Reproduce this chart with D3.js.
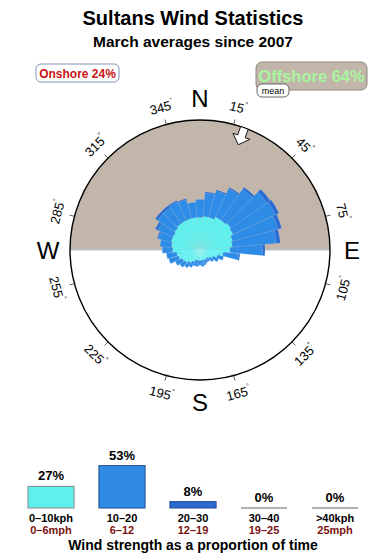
<!DOCTYPE html>
<html>
<head>
<meta charset="utf-8">
<script src="https://cdn.jsdelivr.net/npm/d3@7"></script>
<style>
  html, body { margin: 0; padding: 0; background: #fff; }
  svg { display: block; font-family: "Liberation Sans", Arial, sans-serif; }
</style>
</head>
<body>
<div id="chart"></div>
<script>
// sector bearings (deg, clockwise from N)
const directions = d3.range(0, 360, 10);
// share of time per sector for each speed band
const calm = [2.5, 2.6, 2.6, 2.8, 2.8, 2.9, 2.8, 2.6, 2.5, 2.3, 1.8, 1.4, 1.1, 0.9, 0.8, 0.8, 0.8, 0.8,
              0.8, 0.8, 0.8, 1.0, 1.2, 1.4, 1.5, 1.7, 1.8, 2.1, 2.2, 2.3, 2.3, 2.4, 2.5, 2.5, 2.5, 2.5];
const light = [1.4, 1.8, 2.1, 2.4, 2.9, 3.4, 3.6, 3.6, 3.4, 2.5, 1.2, 0.5, 0.5, 0.4, 0.3, 0.3, 0.4, 0.5,
               0.4, 0.5, 0.5, 0.5, 0.5, 0.5, 0.6, 0.8, 0.8, 0.8, 0.9, 1.0, 1.3, 1.6, 1.5, 1.6, 1.5, 1.2];
const moderate = [0, 0.1, 0.1, 0.1, 0.2, 0.3, 0.3, 0.3, 0.3, 0.2, 0.1, 0, 0, 0, 0, 0, 0, 0,
                  0, 0, 0, 0, 0, 0, 0, 0, 0, 0, 0, 0.1, 0.2, 0.2, 0.2, 0.1, 0.1, 0];
const tickAngles = [15, 45, 75, 105, 135, 165, 195, 225, 255, 285, 315, 345];
const compass = [["N", 0], ["E", 90], ["S", 180], ["W", 270]];
const meanDir = 20;

// speed histogram
const speedKph = ["0–10kph", "10–20", "20–30", "30–40", ">40kph"];
const speedMph = ["0–6mph", "6–12", "12–19", "19–25", "25mph"];
const speedPct = [27, 53, 8, 0, 0];

const W = 390, H = 560;
const cx = 200, cy = 250, R = 130;
const rad = d => d * Math.PI / 180;

const svg = d3.select("#chart").append("svg").attr("width", W).attr("height", H);

// titles
svg.append("text").attr("x", 193).attr("y", 25).attr("text-anchor", "middle")
  .style("font-size", "20px").style("font-weight", "bold").text("Sultans Wind Statistics");
svg.append("text").attr("x", 193).attr("y", 47).attr("text-anchor", "middle")
  .style("font-size", "15.5px").style("font-weight", "bold").text("March averages since 2007");

// onshore / offshore badges
svg.append("rect").attr("x", 36).attr("y", 64).attr("width", 83).attr("height", 18).attr("rx", 5)
  .attr("fill", "#fff").attr("stroke", "#8094b0");
svg.append("text").attr("x", 77.5).attr("y", 77.5).attr("text-anchor", "middle")
  .style("font-size", "12px").style("font-weight", "bold").attr("fill", "#c81414").text("Onshore 24%");
svg.append("rect").attr("x", 256).attr("y", 62).attr("width", 111).attr("height", 28).attr("rx", 6)
  .attr("fill", "#c2b6aa").attr("stroke", "#8d8780");
svg.append("text").attr("x", 311.5).attr("y", 81.5).attr("text-anchor", "middle")
  .style("font-size", "16.5px").style("font-weight", "bold").attr("fill", "#a8f5a0").text("Offshore 64%");
svg.append("rect").attr("x", 257).attr("y", 84).attr("width", 32).attr("height", 13).attr("rx", 5)
  .attr("fill", "#fff").attr("stroke", "#666");
svg.append("text").attr("x", 273).attr("y", 94).attr("text-anchor", "middle")
  .style("font-size", "9px").attr("fill", "#000").text("mean");

// compass dial
const g = svg.append("g").attr("transform", `translate(${cx},${cy})`);
const half = d3.arc().innerRadius(0).outerRadius(R);
g.append("path").attr("d", half({ startAngle: -Math.PI / 2, endAngle: Math.PI / 2 })).attr("fill", "#c2b6aa");
g.append("path").attr("d", half({ startAngle: Math.PI / 2, endAngle: 3 * Math.PI / 2 })).attr("fill", "#fff");
g.append("line").attr("x1", -R).attr("x2", R).attr("stroke", "#a8c6de").attr("stroke-width", 1.2);

// stacked rose
const rows = directions.map((d, i) => ({ dir: d, calm: calm[i], light: light[i], moderate: moderate[i] }));
const stack = d3.stack().keys(["calm", "light", "moderate"]);
const layers = stack(rows);
const r = d3.scaleLinear().domain([0, 10]).range([0, R]);
const colors = { calm: "#5ef0ee", light: "#2f8ce6", moderate: "#2a6cd6" };
const sector = d3.arc()
  .innerRadius(d => r(d[0]))
  .outerRadius(d => r(d[1]))
  .startAngle(d => rad(d.data.dir - 5))
  .endAngle(d => rad(d.data.dir + 5));

g.selectAll("g.layer")
  .data(layers)
  .join("g")
    .attr("class", "layer")
    .attr("fill", d => colors[d.key])
  .selectAll("path")
  .data(d => d)
  .join("path")
    .attr("d", sector)
    .attr("stroke", "rgba(255,255,255,0.12)")
    .attr("stroke-width", 0.5);

// rim + ticks
g.append("circle").attr("r", R).attr("fill", "none").attr("stroke", "#000").attr("stroke-width", 1.4);
g.selectAll("line.tick")
  .data(tickAngles)
  .join("line")
    .attr("class", "tick")
    .attr("x1", d => (R - 1) * Math.sin(rad(d))).attr("y1", d => -(R - 1) * Math.cos(rad(d)))
    .attr("x2", d => (R + 5) * Math.sin(rad(d))).attr("y2", d => -(R + 5) * Math.cos(rad(d)))
    .attr("stroke", "#333").attr("stroke-width", 0.8);

const tl = g.selectAll("text.deg")
  .data(tickAngles)
  .join("text")
    .attr("class", "deg")
    .attr("text-anchor", "middle")
    .attr("dominant-baseline", "central")
    .style("font-size", "13px")
    .attr("transform", d => {
      const x = 148 * Math.sin(rad(d)), y = -148 * Math.cos(rad(d));
      const rot = (d > 90 && d < 270) ? d - 180 : (d > 180 ? d - 360 : d);
      return `translate(${x},${y}) rotate(${rot})`;
    });
tl.append("tspan").text(d => d);
tl.append("tspan").attr("dy", -5).style("font-size", "7px").text("°");

g.selectAll("text.card")
  .data(compass)
  .join("text")
    .attr("class", "card")
    .attr("text-anchor", "middle")
    .attr("x", d => 152 * Math.sin(rad(d[1])))
    .attr("y", d => -152 * Math.cos(rad(d[1])) + 9)
    .style("font-size", "24px")
    .text(d => d[0]);

// mean direction arrow, pointing inward
const arrowPts = [[130, -4], [121, -4], [121, -9], [112, 0], [121, 9], [121, 4], [130, 4]];
g.append("polygon")
  .attr("points", arrowPts.map(([rr, t]) => {
    const a = rad(meanDir);
    return [rr * Math.sin(a) + t * Math.cos(a), -rr * Math.cos(a) + t * Math.sin(a)].join(",");
  }).join(" "))
  .attr("fill", "#fff").attr("stroke", "#000").attr("stroke-width", 0.9);

// speed histogram
const x = d3.scaleBand().domain(speedKph).range([15.5, 370.5]).paddingInner(0.35).paddingOuter(0.175);
const y = d3.scaleLinear().domain([0, 100]).range([508, 428]);
const barFill = ["#5ef0ea", "#2f8be4", "#2c69d2", "#2c69d2", "#2c69d2"];
const barStroke = ["#8a8a8a", "#1f4f90", "#1f4a90", "#999", "#999"];

const bars = svg.append("g");
bars.selectAll("rect")
  .data(speedPct.map((v, i) => ({ v, i })).filter(d => d.v > 0))
  .join("rect")
    .attr("x", d => x(speedKph[d.i]))
    .attr("y", d => y(d.v))
    .attr("width", x.bandwidth())
    .attr("height", d => y(0) - y(d.v))
    .attr("fill", d => barFill[d.i])
    .attr("stroke", d => barStroke[d.i]);
bars.selectAll("line")
  .data(speedPct.map((v, i) => ({ v, i })).filter(d => d.v === 0))
  .join("line")
    .attr("x1", d => x(speedKph[d.i])).attr("x2", d => x(speedKph[d.i]) + x.bandwidth())
    .attr("y1", y(0)).attr("y2", y(0))
    .attr("stroke", "#999").attr("stroke-width", 1.5);

bars.selectAll("text.pct")
  .data(speedPct)
  .join("text")
    .attr("class", "pct")
    .attr("text-anchor", "middle")
    .attr("x", (d, i) => x(speedKph[i]) + x.bandwidth() / 2)
    .attr("y", d => y(d) - 6)
    .style("font-size", "13px").style("font-weight", "bold")
    .text(d => d + "%");
bars.selectAll("text.kph")
  .data(speedKph)
  .join("text")
    .attr("class", "kph")
    .attr("text-anchor", "middle")
    .attr("x", d => x(d) + x.bandwidth() / 2)
    .attr("y", 522)
    .style("font-size", "11px").style("font-weight", "bold")
    .text(d => d);
bars.selectAll("text.mph")
  .data(speedMph)
  .join("text")
    .attr("class", "mph")
    .attr("text-anchor", "middle")
    .attr("x", (d, i) => x(speedKph[i]) + x.bandwidth() / 2)
    .attr("y", 534)
    .attr("fill", "#7a1212")
    .style("font-size", "11px").style("font-weight", "bold")
    .text(d => d);
svg.append("text").attr("x", 193).attr("y", 550).attr("text-anchor", "middle")
  .style("font-size", "14px").style("font-weight", "bold").text("Wind strength as a proportion of time");
</script>
</body>
</html>
